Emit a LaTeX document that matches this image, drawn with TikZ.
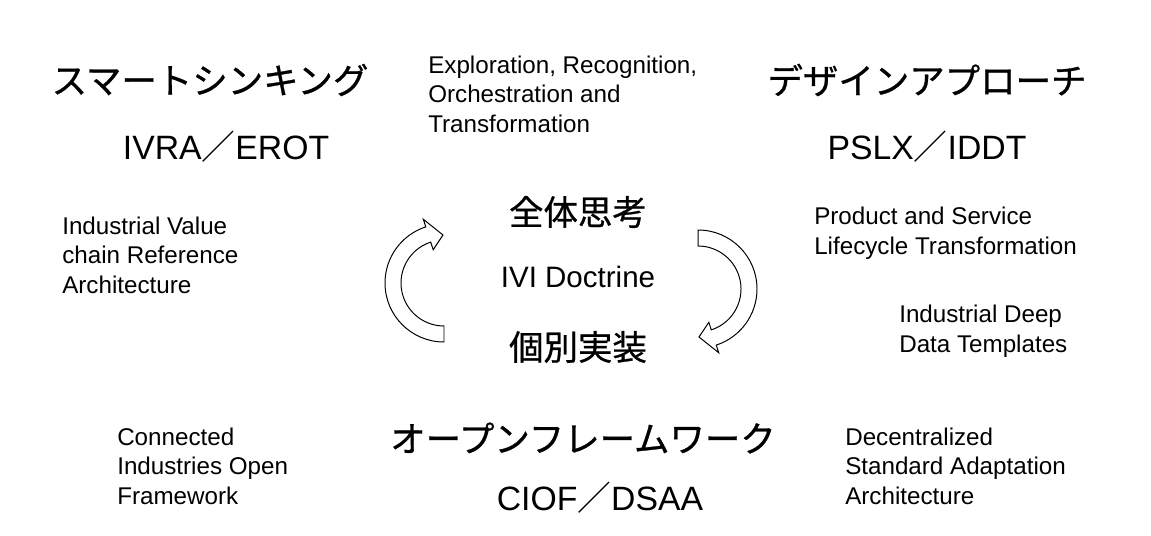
\documentclass[tikz,border=0pt]{standalone}
\usepackage{fontspec}
\setmainfont{Liberation Sans}
\newfontfamily\cjk[FakeBold=0.8]{Noto Sans CJK JP}
\newfontfamily\cjkslash{Noto Sans CJK JP}
\begin{document}
\begin{tikzpicture}[x=0.025cm, y=-0.025cm,
  title/.style={font=\cjk\fontsize{25.2}{28}\selectfont, inner sep=0},
  kanji/.style={font=\cjk\fontsize{24.5}{28}\selectfont, inner sep=0},
  code/.style={font=\fontsize{24}{28}\selectfont, inner sep=0},
  note/.style={font=\fontsize{17.2}{21}\selectfont, align=left, anchor=west, inner sep=0},
  cyclearrow/.style={draw=black, fill=white, line width=0.7pt, line join=miter}]
\useasboundingbox (0,0) rectangle (1151,536);
\node[title] (smartthink) at (210,80) {スマートシンキング};
\node[code] (ivra) at (226,147) {IVRA{\cjkslash ／}EROT};
\node[note] (explore) at (428,94) {Exploration, Recognition,\\Orchestration and\\Transformation};
\node[title] (design) at (927,80) {デザインアプローチ};
\node[code] (pslx) at (927,147) {PSLX{\cjkslash ／}IDDT};
\node[kanji] (zentai) at (578,212) {全体思考};
\node[code, font=\fontsize{21}{25}\selectfont] (ividoc) at (578,277) {IVI Doctrine};
\node[kanji] (kobetsu) at (578,347) {個別実装};
\node[note] (ivrc) at (62,255) {Industrial Value\\chain Reference\\Architecture};
\node[note] (pslt) at (814,233.5) {Product and Service\\Lifecycle Transformation};
\node[note] (iddt) at (899,331.5) {Industrial Deep\\Data Templates};
\node[note] (ciofdesc) at (117,466) {Connected\\Industries Open\\Framework};
\node[title] (openfw) at (583,438) {オープンフレームワーク};
\node[code] (ciof) at (600,498) {CIOF{\cjkslash ／}DSAA};
\node[note] (dsaa) at (845,466) {Decentralized\\Standard Adaptation\\Architecture};
% left arrow goes up, right arrow goes down
\begin{scope}[shift={(444,283)}]
  \draw[cyclearrow] (90:59) arc[start angle=90, end angle=252, radius=59] -- (252:67)
    -- (-1,-48) -- (252:35) -- (252:43) arc[start angle=252, end angle=90, radius=43] -- cycle;
\end{scope}
\begin{scope}[shift={(698,289)}, rotate=180]
  \draw[cyclearrow] (90:59) arc[start angle=90, end angle=252, radius=59] -- (252:67)
    -- (-1,-48) -- (252:35) -- (252:43) arc[start angle=252, end angle=90, radius=43] -- cycle;
\end{scope}
\end{tikzpicture}
\end{document}
